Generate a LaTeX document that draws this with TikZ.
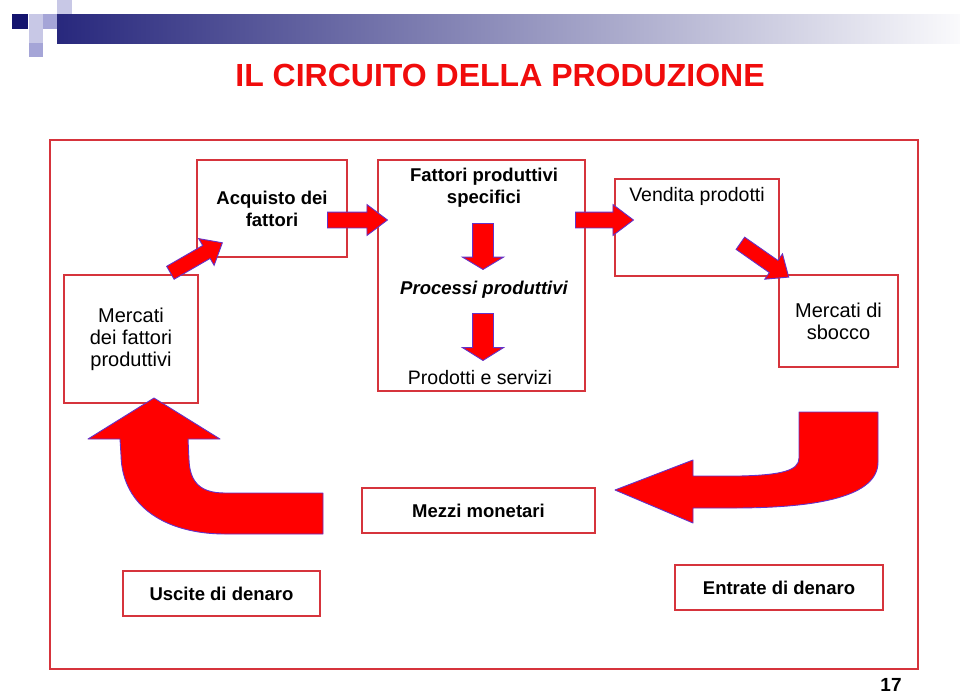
\documentclass[tikz,border=0pt]{standalone}
\usepackage{fontspec}
\setmainfont{Liberation Sans}
\usetikzlibrary{shapes.arrows}
\definecolor{boxred}{RGB}{214,52,60}
\definecolor{arrred}{RGB}{255,0,0}
\definecolor{arrblue}{RGB}{100,50,200}
\definecolor{titlered}{RGB}{240,12,12}
\definecolor{navy}{RGB}{20,20,110}
\definecolor{barL}{RGB}{40,40,125}
\definecolor{barM}{RGB}{170,170,192}
\definecolor{barR}{RGB}{250,250,252}
\definecolor{sqA}{RGB}{200,200,230}
\definecolor{sqB}{RGB}{165,165,215}
\begin{document}
\begin{tikzpicture}[x=1pt,y=-1pt,
  frame/.style={draw=boxred, line width=1.4pt, inner sep=0pt, align=center},
  bx/.style={frame, font=\fontsize{18.5}{22}\selectfont\bfseries},
  bxr/.style={frame, font=\fontsize{20}{22}\selectfont},
  lbl/.style={inner sep=0pt, align=center, font=\fontsize{18.5}{22}\selectfont\bfseries},
  lblr/.style={inner sep=0pt, align=center, font=\fontsize{19.5}{22}\selectfont},
  blockarrow/.style={single arrow, draw=arrblue, fill=arrred, line width=0.9pt,
     inner xsep=0pt, single arrow head indent=0pt, anchor=tail},
  curvearrow/.style={draw=arrblue, fill=arrred, line width=0.9pt, line join=round}
]
\useasboundingbox (0,0) rectangle (960,696);
% header decoration
\fill[navy] (12,14) rectangle (28,29);
\fill[sqA] (29,14) rectangle (43,29);
\fill[sqB] (43,14) rectangle (57,29);
\fill[sqA] (57,0) rectangle (72,14);
\fill[sqA] (29,29) rectangle (43,43);
\fill[sqB] (29,43) rectangle (43,57);
\shade[left color=barL, middle color=barM, right color=barR] (57,14) rectangle (960,43);
% title
\node[text=titlered, inner sep=0pt, font=\fontsize{32}{38}\selectfont\bfseries] (title) at (500,75) {IL CIRCUITO DELLA PRODUZIONE};
% outer frame
\node[frame, minimum width=868pt, minimum height=529pt] (outer) at (484,404.5) {};
% boxes
\node[bx, minimum width=150pt, minimum height=97pt] (acq) at (272,208.5) {Acquisto dei\\fattori};
\node[frame, minimum width=207pt, minimum height=231pt] (prod) at (481.5,275.5) {};
\node[frame, minimum width=164pt, minimum height=97pt] (vend) at (697,227.5) {};
\node[bxr, minimum width=134pt, minimum height=128pt] (mfat) at (131,339) {Mercati\\dei fattori\\produttivi};
\node[bxr, minimum width=119pt, minimum height=92pt] (msb) at (838.5,321) {Mercati di\\sbocco};
\node[bx, minimum width=233pt, minimum height=45pt] (mezzi) at (478.5,510.5) {Mezzi monetari};
\node[bx, minimum width=197pt, minimum height=45pt] (usc) at (221.5,593.5) {Uscite di denaro};
\node[bx, minimum width=208pt, minimum height=45pt] (ent) at (779,587.5) {Entrate di denaro};
% texts inside big boxes
\node[lbl] (fps) at (484,188) {Fattori produttivi\\specifici};
\node[lblr] (vtxt) at (697,196) {Vendita prodotti};
\node[lbl, font=\fontsize{18.5}{22}\selectfont\bfseries\itshape] (proc) at (484,290) {Processi produttivi};
\node[lblr] (pes) at (480,378) {Prodotti e servizi};
% straight block arrows
\node[blockarrow, rotate=30, inner ysep=7pt, minimum height=60pt, single arrow head extend=8pt, single arrow tip angle=80] (a1) at (170,273) {};
\node[blockarrow, rotate=0, inner ysep=7.5pt, minimum height=60pt, single arrow head extend=7.5pt, single arrow tip angle=74] (a2) at (327,220) {};
\node[blockarrow, rotate=0, inner ysep=7.5pt, minimum height=58pt, single arrow head extend=7.5pt, single arrow tip angle=74] (a3) at (575,220) {};
\node[blockarrow, rotate=-35, inner ysep=7pt, minimum height=59pt, single arrow head extend=8pt, single arrow tip angle=80] (a4) at (740,243) {};
\node[blockarrow, rotate=-90, inner ysep=10pt, minimum height=46pt, single arrow head extend=10pt, single arrow tip angle=118] (d1) at (483,223) {};
\node[blockarrow, rotate=-90, inner ysep=10pt, minimum height=47pt, single arrow head extend=10pt, single arrow tip angle=116] (d2) at (483,313) {};
% curved arrows
\path[curvearrow] (154,398) -- (220,439) -- (188,439) -- (189,460)
  .. controls (190,482) and (200,493) .. (225,493) -- (323,493) -- (323,534)
  -- (225,534) .. controls (168,534) and (122,508) .. (121,455) -- (120,439)
  -- (88,439) -- cycle;
\path[curvearrow] (799,412) -- (878,412) -- (878,462)
  .. controls (878,496) and (820,508) .. (733,508) -- (693,508) -- (693,523)
  -- (615,490) -- (693,460) -- (693,476) -- (740,476)
  .. controls (780,475) and (799,471) .. (799,458) -- cycle;
% page number
\node[anchor=base, inner sep=0pt, font=\fontsize{19}{24}\selectfont\bfseries] (pg) at (891,691) {17};
\end{tikzpicture}
\end{document}
